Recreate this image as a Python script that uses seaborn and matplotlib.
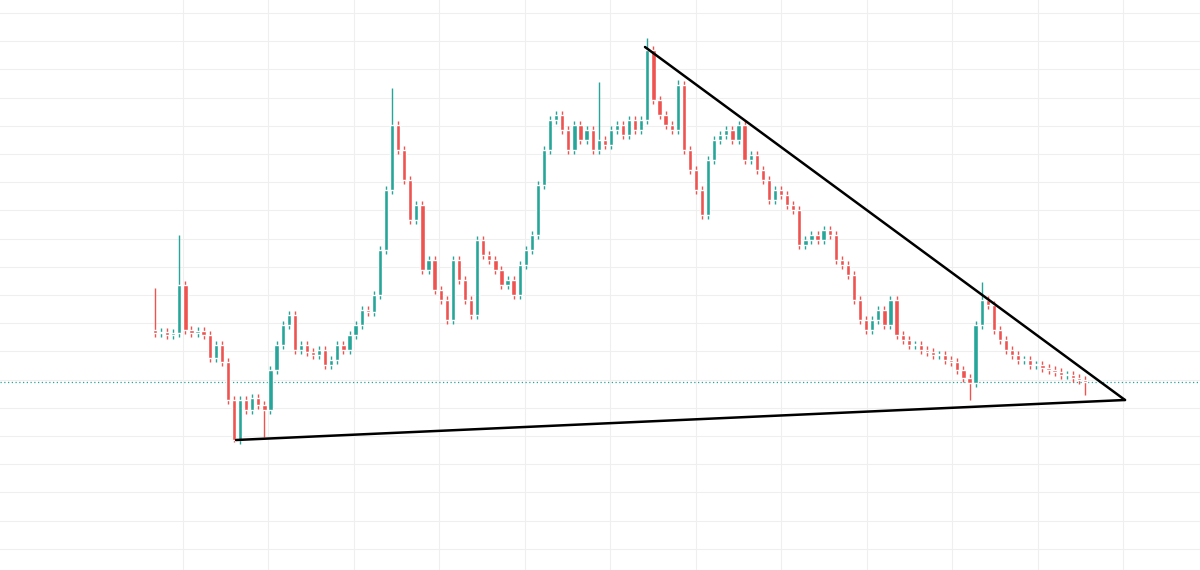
import matplotlib
matplotlib.use("Agg")
import matplotlib.pyplot as plt
import seaborn as sns
import numpy as np

sns.set_theme(style="white")

# closing levels (chart units, larger = higher on screen)
closes_px = [333,332,335,333,285,330,333,331,
             335,358,345,362,400,
             440,400,410,398,405,410,
             370,345,325,315,
             350,345,352,355,350,365,360,
             345,350,335,325,310,312,
             295,250,190,125,
             150,180,220,205,
             270,260,290,300,320,
             260,280,300,315,
             240,255,260,
             270,285,280,295,
             265,250,235,
             185,150,120,
             115,130,150,125,140,130,150,140,
             145,130,125,135,120,130,120,
             50,
             100,115,125,130,
             85,
             150,170,190,215,
             160,140,135,130,140,125,
             160,155,170,180,200,190,195,205,210,
             245,240,235,240,230,235,
             260,265,275,
             300,320,330,
             320,310,325,300,335,
             340,345,345,350,352,355,355,360,362,370,378,383,
             325,300,305,
             330,340,350,355,
             360,360,365,365,368,370,372,375,375,378,380,382]
first_open_px = 330
spike_high = {0: 288, 4: 235, 39: 88, 73: 82, 81: 38, 86: 80, 136: 282}
spike_low = {13: 442, 18: 437, 134: 400, 153: 395}

H = 570
close = np.array([H - v for v in closes_px], float)
opn = np.concatenate([[H - first_open_px], close[:-1]])
high = np.maximum(opn, close) + 4
low = np.minimum(opn, close) - 4
for k, v in spike_high.items():
    high[k] = H - v
for k, v in spike_low.items():
    low[k] = H - v

N = len(close)
s = 930 / (N - 1)
a = -155 / s
b = a + 1200 / s

def px2i(px):
    return (px - 155) / s

fig = plt.figure(figsize=(12, 5.7), dpi=100)
ax = fig.add_axes([0, 0, 1, 1])
ax.set_xlim(a, b)
ax.set_ylim(0, H)

for gx in np.arange(183, 1200, 85.5):
    ax.axvline(px2i(gx), color="#efefef", lw=0.8, zorder=0)
for gy in np.arange(13, 570, 28.2):
    ax.axhline(H - gy, color="#efefef", lw=0.8, zorder=0)

up = "#26a69a"
dn = "#ef5350"
x = np.arange(N)
colors = [up if c >= o else dn for o, c in zip(opn, close)]
ax.vlines(x, low, high, colors=colors, lw=1, zorder=2)
ax.bar(x, np.maximum(np.abs(close - opn), 1.2), bottom=np.minimum(opn, close),
       width=0.7, color=colors, zorder=3)

ax.axhline(H - 382, color="#26a69a", lw=0.9, ls=(0, (1, 2)), zorder=1)

ax.plot([px2i(236), px2i(1125)], [H - 440, H - 400], color="black", lw=1.8, zorder=4)
ax.plot([px2i(645), px2i(1125)], [H - 47, H - 400], color="black", lw=1.8, zorder=4)

ax.set_xticks([]); ax.set_yticks([])
for sp in ax.spines.values():
    sp.set_visible(False)
fig.savefig("out.png", dpi=100, facecolor="white")
